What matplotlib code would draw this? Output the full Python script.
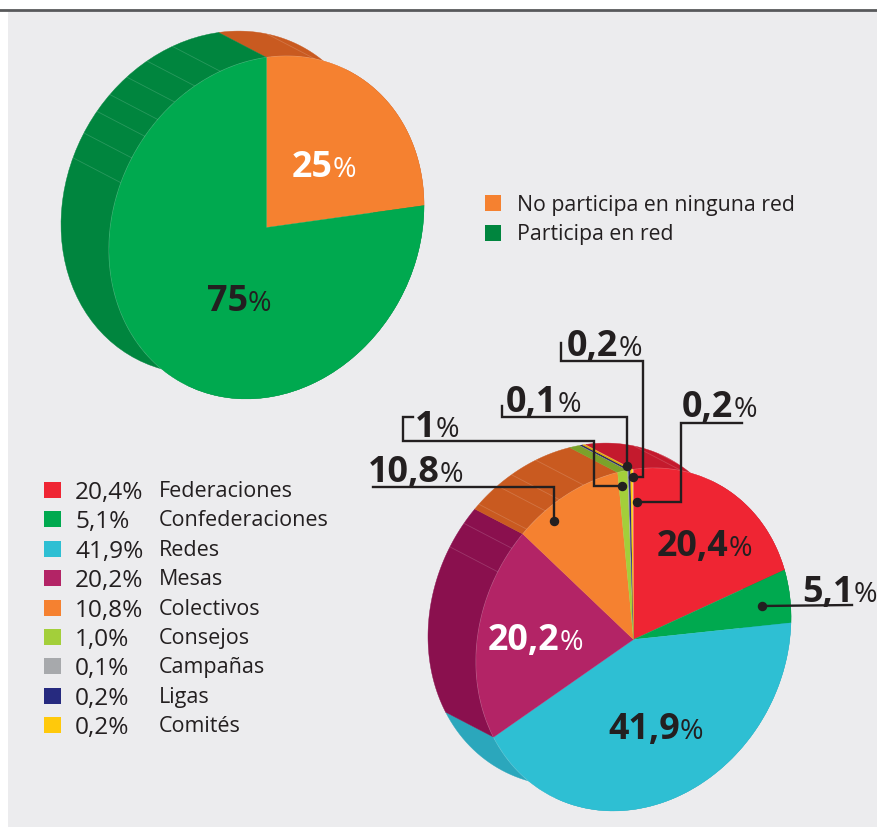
import numpy as np
import matplotlib
matplotlib.use("Agg")
import matplotlib.pyplot as plt
from matplotlib.patches import Wedge, Polygon, Rectangle
from matplotlib.transforms import Affine2D

plt.rcParams["font.family"] = ["Open Sans", "DejaVu Sans"]

# datos
part_labels = ["No participa en ninguna red", "Participa en red"]
part_values = [25, 75]
part_colors = ["#F58130", "#00A94F"]
part_dark = ["#C95A20", "#00853E"]

red_labels = ["Federaciones", "Confederaciones", "Redes", "Mesas", "Colectivos",
              "Consejos", "Campañas", "Ligas", "Comités"]
red_values = [20.4, 5.1, 41.9, 20.2, 10.8, 1.0, 0.1, 0.2, 0.2]
red_colors = ["#EF2533", "#00A94F", "#2EBFD3", "#B32466", "#F58130",
              "#A3CF3A", "#A7A9AC", "#262A7F", "#FFC90B"]
red_dark = ["#C41A2D", "#00853E", "#2BA7BC", "#8A104E", "#C95A20",
            "#7BA22A", "#8A8C8E", "#1B1D5E", "#E0A800"]

TINTA = "#231F20"
RX, RY, SHEAR = 157.5, 170, 22
DX, DY = -48, -25

# rayitas claras del costado (angulo del disco)
rayas_a = [107, 117, 125.6, 133.6, 140.5, 148.7, 157.5, 72]
rayas_b = [108.4, 118, 124, 132.6, 140.5, 149.4, 72, 62]


def punto(cx, cy, t):
    t = np.radians(t)
    return cx + RX * np.cos(t), cy - RY * np.sin(t) - SHEAR * np.cos(t)


def torta(ax, cx, cy, values, colors, dark, rayas):
    disco = Affine2D.from_values(RX, -SHEAR, 0, -RY, cx, cy) + ax.transData
    ini = 90.0
    tramos = []
    for v in values:
        fin = ini - v * 3.6
        tramos.append((fin, ini))
        ini = fin
    # costado
    for (a, b), c in zip(tramos, dark):
        t = np.linspace(a, b, 80)
        x, y = punto(cx, cy, t)
        xy = np.r_[np.c_[x, y], np.c_[x + DX, y + DY][::-1]]
        ax.add_patch(Polygon(xy, closed=True, fc=c, ec=c, lw=0.3, zorder=2))
    for t in rayas:
        x, y = punto(cx, cy, t)
        ax.plot([x, x + DX], [y, y + DY], color="white", alpha=0.16, lw=0.6, zorder=3)
    # borde claro entre costado y frente
    t = np.linspace(60, 240, 200)
    x, y = punto(cx, cy, t)
    ax.plot(x, y, color="white", alpha=0.3, lw=0.7, zorder=3)
    # frente
    for (a, b), c in zip(tramos, colors):
        ax.add_patch(Wedge((0, 0), 1, a, b, fc=c, ec=c, lw=0.2, transform=disco, zorder=4))


def rotulo(ax, x, y, num, color=TINTA, size=25.8):
    t = ax.text(x, y, num, fontsize=size, fontweight="bold", color=color, va="baseline",
                ha="left", zorder=8)
    w = t.get_window_extent(fig.canvas.get_renderer()).width
    ax.text(x + w, y, "%", fontsize=20.5, color=color, va="baseline", ha="left", zorder=8)


def guia(ax, xs, ys):
    ax.plot(xs, ys, color=TINTA, lw=1.7, solid_joinstyle="miter", zorder=6)
    ax.plot(xs[-1], ys[-1], "o", color=TINTA, ms=5.8, zorder=7)


fig = plt.figure(figsize=(8.77, 8.29), dpi=100)
ax = fig.add_axes([0, 0, 1, 1])
ax.set_xlim(0, 877)
ax.set_ylim(829, 0)
ax.axis("off")

ax.add_patch(Rectangle((8, 11), 869, 817, fc="#ECECEE", ec="none", zorder=0))
ax.plot([0, 877], [11.3, 11.3], color="#58595B", lw=2, zorder=1)

torta(ax, 266.5, 228.5, part_values, part_colors, part_dark, rayas_a)
torta(ax, 633.5, 640.5, red_values, red_colors, red_dark, rayas_b)

# leyenda de arriba
for y, c, s in zip([204, 233.5], ["#F58130", "#00853E"], part_labels):
    ax.add_patch(Rectangle((485, y - 8), 16, 16, fc=c, ec="none", zorder=5))
for y, s in zip([211, 239.5], part_labels):
    ax.text(517, y, s, fontsize=15.3, color=TINTA, va="baseline", ha="left")

# leyenda de abajo
filas = np.arange(len(red_values)) * 29.4
for d, v, s, c in zip(filas, red_values, red_labels, red_colors):
    ax.add_patch(Rectangle((44, 483 + d), 16.5, 16, fc=c, ec="none", zorder=5))
    ax.text(75, 499 + d, f"{v:.1f}".replace(".", ",") + "%", fontsize=17.6, color=TINTA,
            va="baseline", ha="left")
    ax.text(159, 497 + d, s, fontsize=15.5, color=TINTA, va="baseline", ha="left")

# guias
guia(ax, [561, 561, 643, 643, 633], [344, 362, 362, 478, 478])
guia(ax, [502, 502, 627, 627], [407, 418, 418, 467])
guia(ax, [413, 403, 403, 594, 594, 622], [418, 418, 442, 442, 487, 487])
guia(ax, [373, 554, 554], [488, 488, 522])
guia(ax, [742, 681, 681, 637], [424, 424, 503, 503])
guia(ax, [852, 762], [606, 607])

# rotulos
rotulo(ax, 292, 177, "25", color="white")
rotulo(ax, 207, 311, "75")
rotulo(ax, 657, 556, "20,4")
rotulo(ax, 802, 602, "5,1")
rotulo(ax, 608, 739, "41,9")
rotulo(ax, 488, 650, "20,2", color="white")
rotulo(ax, 368, 482, "10,8")
rotulo(ax, 415, 437, "1")
rotulo(ax, 506, 412, "0,1")
rotulo(ax, 567, 356, "0,2")
rotulo(ax, 682, 417, "0,2")

fig.savefig("out.png", dpi=100)
